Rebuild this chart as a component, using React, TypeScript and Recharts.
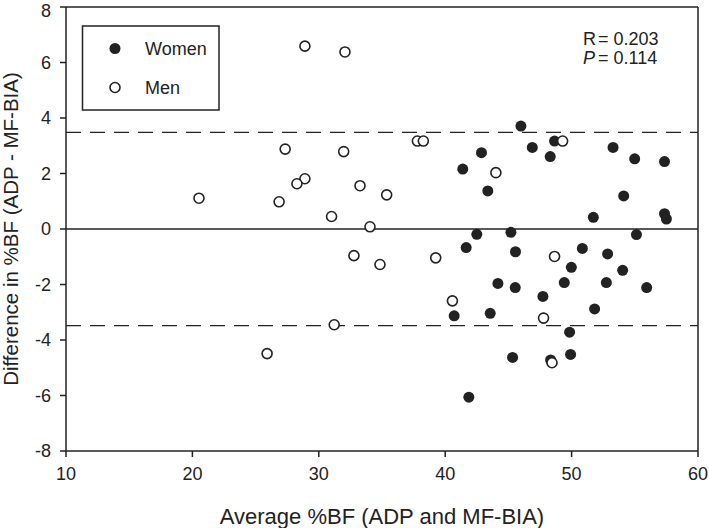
import React from "react";
import {
  ScatterChart,
  Scatter,
  XAxis,
  YAxis,
  ReferenceLine,
} from "recharts";

// Bland-Altman style data
const womenX = [
  45.99, 42.87, 46.89, 48.65, 48.31, 53.28, 54.99, 57.35, 41.39, 43.37, 54.12,
  51.72, 57.35, 57.5, 42.5, 45.2, 55.13, 41.66, 45.56, 50.85, 52.85, 49.98,
  54.04, 44.17, 45.54, 49.42, 52.75, 55.94, 47.73, 51.82, 40.71, 43.56, 49.84,
  45.33, 49.92, 48.34, 41.87,
];
const womenY = [
  3.71, 2.75, 2.94, 3.17, 2.61, 2.94, 2.53, 2.43, 2.16, 1.37, 1.19, 0.42, 0.55,
  0.36, -0.19, -0.12, -0.2, -0.67, -0.82, -0.7, -0.9, -1.38, -1.49, -1.96,
  -2.11, -1.93, -1.93, -2.11, -2.43, -2.88, -3.13, -3.04, -3.72, -4.63, -4.52,
  -4.72, -6.06,
];
const menX = [
  28.9, 32.07, 27.34, 31.97, 28.9, 28.27, 20.52, 26.86, 33.26, 35.37, 31.01,
  34.05, 37.8, 38.27, 49.29, 44.01, 39.25, 48.65, 40.57, 47.78, 48.45, 32.78,
  34.84, 31.22, 25.91,
];
const menY = [
  6.59, 6.38, 2.88, 2.79, 1.81, 1.63, 1.11, 0.98, 1.56, 1.23, 0.45, 0.08, 3.17,
  3.17, 3.17, 2.03, -1.04, -0.99, -2.59, -3.21, -4.82, -0.96, -1.28, -3.45,
  -4.49,
];
const xTicks = [10, 20, 30, 40, 50, 60];
const yTicks = [-8, -6, -4, -2, 0, 2, 4, 6, 8];
const limits = [3.48, -3.48];
const seriesNames = ["Women", "Men"];
const stats = [
  { key: "R", value: "0.203", italic: false },
  { key: "P", value: "0.114", italic: true },
];

const women = womenX.map((x, i) => ({ x, y: womenY[i] }));
const men = menX.map((x, i) => ({ x, y: menY[i] }));

const INK = "#222";
const FONT = "'Liberation Sans', Arial, sans-serif";

const FilledDot = (p: any) => <circle cx={p.cx} cy={p.cy} r={5.5} fill={INK} />;
const OpenDot = (p: any) => (
  <circle cx={p.cx} cy={p.cy} r={5} fill="#fff" stroke={INK} strokeWidth={1.6} />
);

export default function App() {
  return (
    <div style={{ position: "absolute", left: 0, top: 0, width: 709, height: 528, background: "#fff", fontFamily: FONT }}>
      <ScatterChart width={709} height={528} margin={{ top: 7, right: 11, bottom: 0, left: 0 }}>
        <XAxis
          type="number"
          dataKey="x"
          domain={[10, 60]}
          ticks={xTicks}
          height={77}
          stroke={INK}
          strokeWidth={1.5}
          tickSize={6}
          tickMargin={10}
          tick={{ fontSize: 18, fill: INK, fontFamily: FONT }}
          label={{
            value: "Average %BF (ADP and MF-BIA)",
            position: "insideBottom",
            offset: 4,
            style: { fontSize: 22, fill: INK, fontFamily: FONT },
          }}
        />
        <YAxis
          type="number"
          dataKey="y"
          domain={[-8, 8]}
          ticks={yTicks}
          width={66}
          stroke={INK}
          strokeWidth={1.5}
          tickSize={6}
          tickMargin={9}
          tick={{ fontSize: 18, fill: INK, fontFamily: FONT }}
          label={{
            value: "Difference in %BF (ADP - MF-BIA)",
            angle: -90,
            position: "insideLeft",
            offset: 11,
            style: { fontSize: 20.5, fill: INK, fontFamily: FONT, textAnchor: "middle" },
          }}
        />
        <ReferenceLine y={8} stroke={INK} strokeWidth={1.5} />
        <ReferenceLine x={60} stroke={INK} strokeWidth={1.5} />
        <ReferenceLine y={0} stroke={INK} strokeWidth={1.3} />
        {limits.map((v) => (
          <ReferenceLine key={v} y={v} stroke={INK} strokeWidth={1.3} strokeDasharray="15 9" />
        ))}
        <Scatter name={seriesNames[0]} data={women} shape={FilledDot} isAnimationActive={false} />
        <Scatter name={seriesNames[1]} data={men} shape={OpenDot} isAnimationActive={false} />
      </ScatterChart>

      {/* legend box and stats annotation */}
      <svg width={709} height={528} style={{ position: "absolute", left: 0, top: 0, pointerEvents: "none" }}>
        <rect x={82.5} y={26} width={136.5} height={84} fill="#fff" stroke={INK} strokeWidth={1.5} />
        <circle cx={115} cy={48.5} r={5.5} fill={INK} />
        <text x={145} y={54.5} fontSize={18} fill={INK} fontFamily={FONT}>{seriesNames[0]}</text>
        <circle cx={115} cy={87.5} r={5} fill="#fff" stroke={INK} strokeWidth={1.6} />
        <text x={145} y={93.5} fontSize={18} fill={INK} fontFamily={FONT}>{seriesNames[1]}</text>

        {stats.map((s, i) => (
          <g key={s.key}>
            <text x={583} y={44.5 + i * 19} fontSize={18} fill={INK} fontFamily={FONT} fontStyle={s.italic ? "italic" : "normal"}>
              {s.key}
            </text>
            <text x={598} y={44.5 + i * 19} fontSize={18} fill={INK} fontFamily={FONT}>
              = {s.value}
            </text>
          </g>
        ))}
      </svg>
    </div>
  );
}
